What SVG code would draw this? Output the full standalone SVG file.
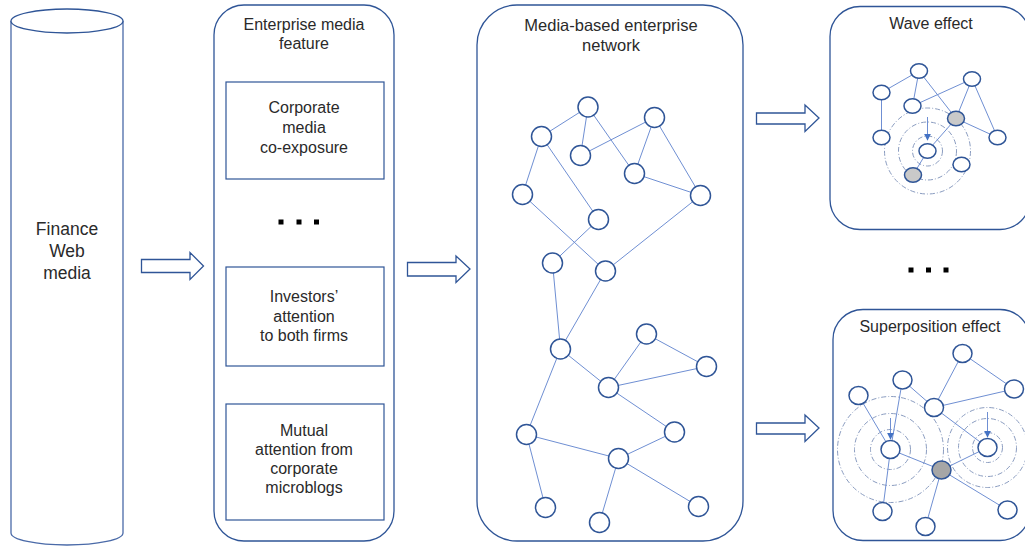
<svg xmlns="http://www.w3.org/2000/svg" width="1025" height="547" viewBox="0 0 1025 547">
<style>
.box{fill:#fff;stroke:#2F5597;stroke-width:1.3}
.sq{fill:#fff;stroke:#2F5597;stroke-width:1.2}
.t{font-family:"Liberation Sans",Arial,sans-serif;fill:#2a2a2a;text-anchor:middle}
.n{fill:#fff;stroke:#2F5597;stroke-width:1.5}
.g{fill:#C9C9C9;stroke:#2F5597;stroke-width:1.5}
.e line{stroke:#6F8FD3;stroke-width:1}
.w circle{fill:none;stroke:#8A9CC0;stroke-width:1;stroke-dasharray:5 2 1 2}
.arr{fill:#fff;stroke:#2F5597;stroke-width:1.3;stroke-linejoin:miter}
.dot{fill:#000}
</style>
<defs>
<marker id="ah" viewBox="0 0 10 10" refX="9" refY="5" markerWidth="7" markerHeight="7" orient="auto" markerUnits="userSpaceOnUse">
<path d="M0,0 L10,5 L0,10 Z" fill="#4472C4"/>
</marker>
</defs>
<rect width="1025" height="547" fill="#fff"/>

<g id="finance-web-media">
<path d="M11,21 L11,533 A56,12 0 0 0 123,533 L123,21" fill="#fff" stroke="#4A6AA8" stroke-width="1.3"/>
<ellipse cx="67" cy="21" rx="56" ry="12" fill="#fff" stroke="#2F5597" stroke-width="1.3"/>
<text class="t" font-size="17.5"><tspan x="67" y="235">Finance</tspan><tspan x="67" y="257">Web</tspan><tspan x="67" y="279">media</tspan></text>
</g>

<g id="arrows">
<path class="arr" d="M141.5,259.5 H190 V252.5 L203.5,266 L190,279.5 V272.5 H141.5 Z"/>
<path class="arr" d="M407.5,262.5 H456 V256 L470,269 L456,282.5 V276 H407.5 Z"/>
<path class="arr" d="M756.5,113 H805 V105 L819,118 L805,131.5 V124 H756.5 Z"/>
<path class="arr" d="M756.5,423 H805 V415 L819,428 L805,441.5 V434 H756.5 Z"/>
</g>

<g id="enterprise-media-feature">
<rect class="box" x="214" y="5" width="180" height="536" rx="30"/>
<text class="t" font-size="16"><tspan x="304" y="30">Enterprise media</tspan><tspan x="304" y="49">feature</tspan></text>
<g id="feature-co-exposure">
<rect class="sq" x="226" y="82" width="158" height="97"/>
<text class="t" font-size="16"><tspan x="304" y="113">Corporate</tspan><tspan x="304" y="133">media</tspan><tspan x="304" y="153">co-exposure</tspan></text>
</g>
<g id="feature-dots">
<rect class="dot" x="278.5" y="219.5" width="5" height="5"/>
<rect class="dot" x="296.5" y="219.5" width="5" height="5"/>
<rect class="dot" x="314" y="219.5" width="5" height="5"/>
</g>
<g id="feature-investors">
<rect class="sq" x="226" y="267" width="158" height="99"/>
<text class="t" font-size="16"><tspan x="304" y="302">Investors’</tspan><tspan x="304" y="322">attention</tspan><tspan x="304" y="341">to both firms</tspan></text>
</g>
<g id="feature-microblogs">
<rect class="sq" x="226" y="404" width="158" height="116"/>
<text class="t" font-size="16"><tspan x="304" y="436">Mutual</tspan><tspan x="304" y="455">attention from</tspan><tspan x="304" y="474">corporate</tspan><tspan x="304" y="493">microblogs</tspan></text>
</g>
</g>

<g id="media-network">
<rect class="box" x="477" y="5" width="266" height="536" rx="40"/>
<text class="t" font-size="16.5"><tspan x="611" y="31">Media-based enterprise</tspan><tspan x="611" y="51">network</tspan></text>
<g class="e">
<line x1="588" y1="107" x2="541.5" y2="136.5"/>
<line x1="588" y1="107" x2="580.5" y2="155.5"/>
<line x1="588" y1="107" x2="634.5" y2="173.5"/>
<line x1="654.5" y1="117.5" x2="580.5" y2="155.5"/>
<line x1="654.5" y1="117.5" x2="634.5" y2="173.5"/>
<line x1="654.5" y1="117.5" x2="700.5" y2="195.5"/>
<line x1="634.5" y1="173.5" x2="700.5" y2="195.5"/>
<line x1="541.5" y1="136.5" x2="522.5" y2="194.5"/>
<line x1="541.5" y1="136.5" x2="598.5" y2="219.5"/>
<line x1="522.5" y1="194.5" x2="605.5" y2="271"/>
<line x1="700.5" y1="195.5" x2="605.5" y2="271"/>
<line x1="598.5" y1="219.5" x2="552.5" y2="263"/>
<line x1="552.5" y1="263" x2="560.5" y2="349"/>
<line x1="605.5" y1="271" x2="560.5" y2="349"/>
<line x1="560.5" y1="349" x2="608.5" y2="387.5"/>
<line x1="560.5" y1="349" x2="526.5" y2="434.5"/>
<line x1="608.5" y1="387.5" x2="646.5" y2="334"/>
<line x1="608.5" y1="387.5" x2="706.5" y2="366.5"/>
<line x1="646.5" y1="334" x2="706.5" y2="366.5"/>
<line x1="608.5" y1="387.5" x2="674.5" y2="432"/>
<line x1="526.5" y1="434.5" x2="618.5" y2="458.5"/>
<line x1="526.5" y1="434.5" x2="545.5" y2="507.5"/>
<line x1="618.5" y1="458.5" x2="674.5" y2="432"/>
<line x1="618.5" y1="458.5" x2="599.5" y2="522.5"/>
<line x1="618.5" y1="458.5" x2="698.5" y2="506.5"/>
</g>
<g>
<circle class="n" cx="588" cy="107" r="10"/>
<circle class="n" cx="654.5" cy="117.5" r="10"/>
<circle class="n" cx="541.5" cy="136.5" r="10"/>
<circle class="n" cx="580.5" cy="155.5" r="10"/>
<circle class="n" cx="634.5" cy="173.5" r="10"/>
<circle class="n" cx="522.5" cy="194.5" r="10"/>
<circle class="n" cx="700.5" cy="195.5" r="10"/>
<circle class="n" cx="598.5" cy="219.5" r="10"/>
<circle class="n" cx="552.5" cy="263" r="10"/>
<circle class="n" cx="605.5" cy="271" r="10"/>
<circle class="n" cx="560.5" cy="349" r="10"/>
<circle class="n" cx="646.5" cy="334" r="10"/>
<circle class="n" cx="706.5" cy="366.5" r="10"/>
<circle class="n" cx="608.5" cy="387.5" r="10"/>
<circle class="n" cx="674.5" cy="432" r="10"/>
<circle class="n" cx="526.5" cy="434.5" r="10"/>
<circle class="n" cx="618.5" cy="458.5" r="10"/>
<circle class="n" cx="545.5" cy="507.5" r="10"/>
<circle class="n" cx="599.5" cy="522.5" r="10"/>
<circle class="n" cx="698.5" cy="506.5" r="10"/>
</g>
</g>

<g id="wave-effect">
<rect class="box" x="830" y="6.5" width="200" height="223" rx="30"/>
<text class="t" font-size="16" x="931" y="29">Wave effect</text>
<g class="w">
<circle cx="927.5" cy="151" r="15"/>
<circle cx="927.5" cy="151" r="29"/>
<circle cx="927.5" cy="151" r="43"/>
</g>
<g class="e">
<line x1="919" y1="71" x2="881.5" y2="92.5"/>
<line x1="919" y1="71" x2="912.5" y2="106"/>
<line x1="919" y1="71" x2="956" y2="118.5"/>
<line x1="972" y1="79" x2="912.5" y2="106"/>
<line x1="972" y1="79" x2="956" y2="118.5"/>
<line x1="972" y1="79" x2="997.5" y2="137.5"/>
<line x1="881.5" y1="92.5" x2="881.5" y2="137.5"/>
<line x1="956" y1="118.5" x2="997.5" y2="137.5"/>
<line x1="956" y1="118.5" x2="927.5" y2="151"/>
<line x1="927.5" y1="151" x2="913" y2="175"/>
<line x1="927.5" y1="117" x2="927.5" y2="140" stroke="#4472C4" marker-end="url(#ah)"/>
</g>
<ellipse class="n" cx="919" cy="71" rx="8.5" ry="7.2"/>
<ellipse class="n" cx="881.5" cy="92.5" rx="8.5" ry="7.2"/>
<ellipse class="n" cx="972" cy="79" rx="8.5" ry="7.2"/>
<ellipse class="n" cx="912.5" cy="106" rx="8.5" ry="7.2"/>
<ellipse class="g" cx="956" cy="118.5" rx="8.5" ry="7.2"/>
<ellipse class="n" cx="881.5" cy="137.5" rx="8.5" ry="7.2"/>
<ellipse class="n" cx="997.5" cy="137.5" rx="8.5" ry="7.2"/>
<ellipse class="n" cx="927.5" cy="151" rx="8.5" ry="7.2"/>
<ellipse class="n" cx="961.5" cy="164.5" rx="8.5" ry="7.2"/>
<ellipse class="g" cx="913" cy="175" rx="8.5" ry="7.2"/>
</g>

<g id="more-effects">
<rect class="dot" x="908.5" y="267.5" width="5" height="5"/>
<rect class="dot" x="926" y="267.5" width="5" height="5"/>
<rect class="dot" x="943.5" y="267.5" width="5" height="5"/>
</g>

<g id="superposition-effect">
<rect class="box" x="833" y="309.5" width="197" height="231" rx="30"/>
<text class="t" font-size="16" x="930" y="332">Superposition effect</text>
<g class="w">
<circle cx="890.5" cy="449.5" r="20"/>
<circle cx="890.5" cy="449.5" r="36"/>
<circle cx="890.5" cy="449.5" r="53"/>
<circle cx="987.5" cy="447.5" r="15"/>
<circle cx="987.5" cy="447.5" r="29"/>
<circle cx="987.5" cy="447.5" r="40"/>
</g>
<g class="e">
<line x1="962.5" y1="353.5" x2="934" y2="407.5"/>
<line x1="962.5" y1="353.5" x2="1014" y2="389"/>
<line x1="934" y1="407.5" x2="1014" y2="389"/>
<line x1="902.5" y1="380" x2="934" y2="407.5"/>
<line x1="902.5" y1="380" x2="890.5" y2="449.5"/>
<line x1="858.5" y1="395.5" x2="890.5" y2="449.5"/>
<line x1="934" y1="407.5" x2="987.5" y2="447.5"/>
<line x1="890.5" y1="449.5" x2="941.5" y2="470"/>
<line x1="941.5" y1="470" x2="987.5" y2="447.5"/>
<line x1="890.5" y1="449.5" x2="882.5" y2="511.5"/>
<line x1="941.5" y1="470" x2="925.5" y2="526.5"/>
<line x1="941.5" y1="470" x2="1007.5" y2="510"/>
<line x1="890.5" y1="418" x2="890.5" y2="439" stroke="#4472C4" marker-end="url(#ah)"/>
<line x1="987.5" y1="412" x2="987.5" y2="437" stroke="#4472C4" marker-end="url(#ah)"/>
</g>
<ellipse class="n" cx="962.5" cy="353.5" rx="9.5" ry="9"/>
<ellipse class="n" cx="902.5" cy="380" rx="9.5" ry="9"/>
<ellipse class="n" cx="858.5" cy="395.5" rx="9.5" ry="9"/>
<ellipse class="n" cx="1014" cy="389" rx="9.5" ry="9"/>
<ellipse class="n" cx="934" cy="407.5" rx="9.5" ry="9"/>
<ellipse class="n" cx="890.5" cy="449.5" rx="9.5" ry="9"/>
<ellipse class="n" cx="987.5" cy="447.5" rx="9.5" ry="9"/>
<ellipse class="g" cx="941.5" cy="470" rx="9.5" ry="9" style="fill:#A6A6A6"/>
<ellipse class="n" cx="882.5" cy="511.5" rx="9.5" ry="9"/>
<ellipse class="n" cx="1007.5" cy="510" rx="9.5" ry="9"/>
<ellipse class="n" cx="925.5" cy="526.5" rx="9.5" ry="9"/>
</g>
</svg>
